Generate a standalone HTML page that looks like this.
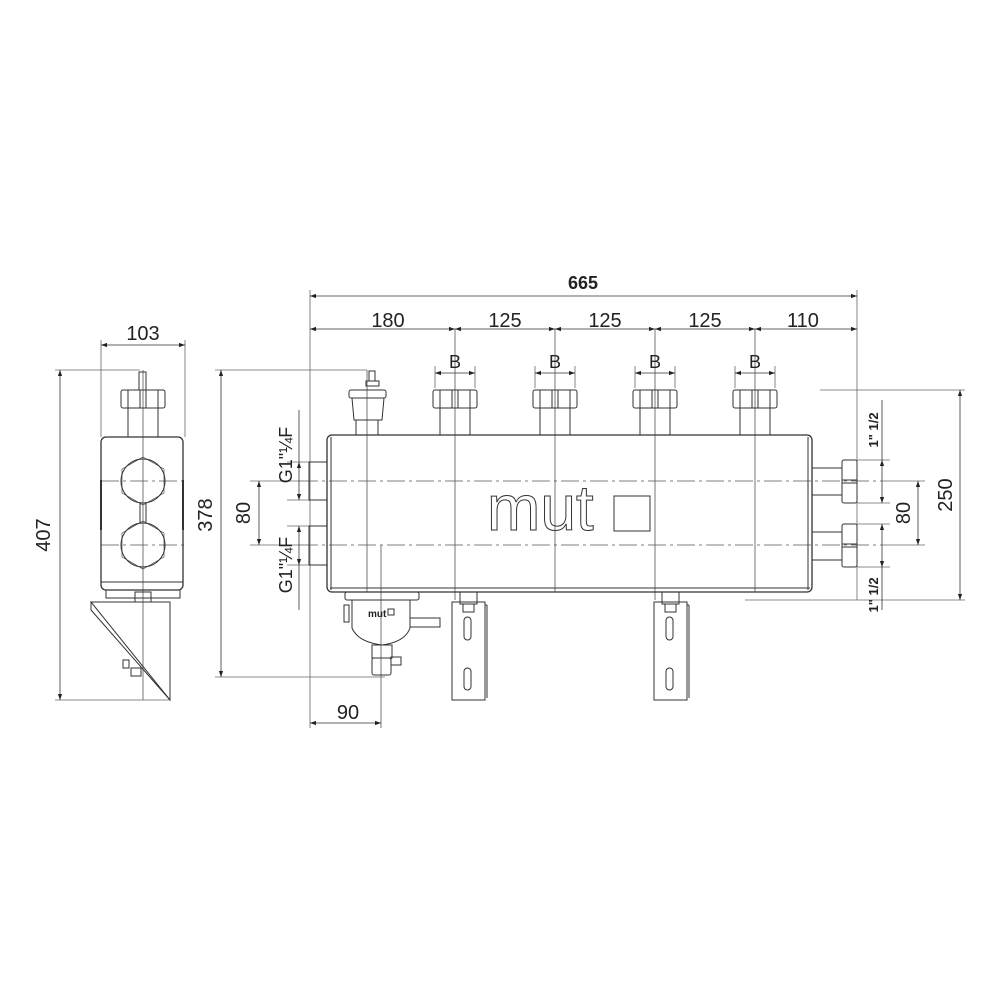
<!DOCTYPE html>
<html><head><meta charset="utf-8"><style>
html,body{margin:0;padding:0;background:#fff}
svg{display:block}
text{font-family:"Liberation Sans",sans-serif;fill:#222}
</style></head><body>
<svg width="1000" height="1000" viewBox="0 0 1000 1000" xmlns="http://www.w3.org/2000/svg">
<defs>
<marker id="a" viewBox="0 0 10 10" refX="10" refY="5" markerWidth="8" markerHeight="6" orient="auto-start-reverse" markerUnits="userSpaceOnUse"><path d="M0,1.5L10,5L0,8.5z" fill="#222"/></marker>
</defs>
<g stroke="#333" stroke-width="1" fill="none">
<g stroke="#555" stroke-width="0.8" stroke-dasharray="18,4,3,4">
<line x1="300" y1="481" x2="880" y2="481"/><line x1="300" y1="545" x2="880" y2="545"/>
<line x1="101" y1="481" x2="185" y2="481"/><line x1="101" y1="545" x2="185" y2="545"/>
</g>
<g stroke="#555" stroke-width="0.8">
<line x1="367" y1="370" x2="367" y2="592"/>
<line x1="455" y1="329" x2="455" y2="600"/><line x1="555" y1="329" x2="555" y2="592"/>
<line x1="655" y1="329" x2="655" y2="600"/><line x1="755" y1="329" x2="755" y2="592"/>
<line x1="143" y1="370" x2="143" y2="700"/>
<line x1="381" y1="545" x2="381" y2="728"/>
</g>
<g stroke="#666" stroke-width="0.8">
<line x1="310" y1="290" x2="310" y2="728"/><line x1="857" y1="290" x2="857" y2="600"/>
<line x1="101" y1="340" x2="101" y2="437"/><line x1="185" y1="340" x2="185" y2="437"/>
<line x1="55" y1="370" x2="140" y2="370"/><line x1="55" y1="700" x2="170" y2="700"/>
<line x1="215" y1="370" x2="367" y2="370"/><line x1="215" y1="677" x2="385" y2="677"/>
<line x1="820" y1="390" x2="965" y2="390"/><line x1="745" y1="600" x2="965" y2="600"/>
<line x1="250" y1="481" x2="300" y2="481"/><line x1="250" y1="545" x2="300" y2="545"/>
<line x1="435" y1="366" x2="435" y2="388"/><line x1="475" y1="366" x2="475" y2="388"/>
<line x1="535" y1="366" x2="535" y2="388"/><line x1="575" y1="366" x2="575" y2="388"/>
<line x1="635" y1="366" x2="635" y2="388"/><line x1="675" y1="366" x2="675" y2="388"/>
<line x1="735" y1="366" x2="735" y2="388"/><line x1="775" y1="366" x2="775" y2="388"/>
<line x1="287" y1="462" x2="310" y2="462"/><line x1="287" y1="500" x2="310" y2="500"/>
<line x1="287" y1="526" x2="310" y2="526"/><line x1="287" y1="565" x2="310" y2="565"/>
<line x1="857" y1="460" x2="890" y2="460"/><line x1="857" y1="503" x2="890" y2="503"/>
<line x1="857" y1="524" x2="890" y2="524"/><line x1="857" y1="567" x2="890" y2="567"/>
<line x1="880" y1="481" x2="925" y2="481"/><line x1="880" y1="545" x2="925" y2="545"/>
</g>
<g stroke="#333" stroke-width="0.8" marker-start="url(#a)" marker-end="url(#a)">
<line x1="310" y1="296" x2="857" y2="296"/>
<line x1="310" y1="329" x2="455" y2="329"/><line x1="455" y1="329" x2="555" y2="329"/>
<line x1="555" y1="329" x2="655" y2="329"/><line x1="655" y1="329" x2="755" y2="329"/>
<line x1="755" y1="329" x2="857" y2="329"/>
<line x1="435" y1="373" x2="475" y2="373"/><line x1="535" y1="373" x2="575" y2="373"/>
<line x1="635" y1="373" x2="675" y2="373"/><line x1="735" y1="373" x2="775" y2="373"/>
<line x1="101" y1="345" x2="185" y2="345"/>
<line x1="60" y1="370" x2="60" y2="700"/>
<line x1="221" y1="370" x2="221" y2="677"/>
<line x1="259" y1="481" x2="259" y2="545"/>
<line x1="299" y1="462" x2="299" y2="500"/><line x1="299" y1="526" x2="299" y2="565"/>
<line x1="310" y1="723" x2="381" y2="723"/>
<line x1="882" y1="460" x2="882" y2="503"/><line x1="882" y1="524" x2="882" y2="567"/>
<line x1="918" y1="481" x2="918" y2="545"/>
<line x1="960" y1="390" x2="960" y2="600"/>
</g>
<line x1="882" y1="400" x2="882" y2="460" stroke-width="0.8"/>
<line x1="882" y1="567" x2="882" y2="610" stroke-width="0.8"/>
<line x1="299" y1="410" x2="299" y2="462" stroke-width="0.8"/>
<line x1="299" y1="565" x2="299" y2="610" stroke-width="0.8"/>

<rect x="327" y="435" width="485" height="157" rx="5" stroke-width="1.3"/>
<line x1="331" y1="437" x2="331" y2="590"/><line x1="808" y1="437" x2="808" y2="590"/>
<line x1="330" y1="588" x2="810" y2="588"/>
<rect x="309" y="462" width="18" height="38"/><rect x="309" y="526" width="18" height="39"/>
<path d="M812 468H842M812 495H842M812 532H842M812 560H842"/>
<rect x="842" y="460" width="15" height="43" rx="2"/><rect x="842" y="524" width="15" height="43" rx="2"/>
<path d="M842 480H857M842 483H857M842 544H857M842 547H857"/>
<g id="o">
<rect x="440" y="408" width="30" height="27"/>
<rect x="433" y="390" width="44" height="18" rx="2"/>
<path d="M440 390V408M470 390V408M452 390V408M458 390V408"/>
</g>
<use href="#o" x="100"/><use href="#o" x="200"/><use href="#o" x="300"/>
<rect x="369" y="371" width="6" height="10"/><rect x="366" y="381" width="13" height="5"/>
<rect x="349" y="390" width="37" height="8" rx="2"/>
<path d="M352 398H384L382 420H354Z"/>
<rect x="356" y="420" width="22" height="15"/>
<rect x="345" y="592" width="74" height="8" rx="2"/>
<path d="M352 600H410V628Q405 642 382 645Q358 642 352 628Z"/>
<rect x="344" y="605" width="5" height="17"/>
<rect x="410" y="618" width="30" height="9"/>
<rect x="372" y="645" width="20" height="13"/>
<rect x="372" y="658" width="19" height="17" rx="2"/>
<rect x="391" y="657" width="10" height="8"/>
<text x="368" y="617" font-size="10" stroke="none" font-weight="bold">mut</text>
<rect x="388" y="609" width="6" height="6"/>
<g id="b">
<rect x="460" y="592" width="17" height="12"/>
<rect x="452" y="602" width="33" height="98"/>
<line x1="485" y1="605" x2="487" y2="605"/><line x1="487" y1="605" x2="487" y2="698"/>
<rect x="463" y="604" width="11" height="8"/>
<rect x="464" y="617" width="7" height="23" rx="3.5"/>
<rect x="464" y="668" width="7" height="22" rx="3.5"/>
</g>
<use href="#b" x="202"/>
<text x="487" y="530" font-size="64" stroke="#333" stroke-width="1" style="fill:none">mut</text>
<rect x="614" y="496" width="36" height="35"/>

<rect x="101" y="437" width="82" height="153" rx="5" stroke-width="1.3"/>
<line x1="101" y1="582" x2="183" y2="582"/>
<path d="M101 480V530M183 480V530" stroke-width="2"/>
<polygon points="143,457 164,469 164,493 143,505 122,493 122,469" stroke-width="0.6"/>
<polygon points="143,521 164,533 164,557 143,569 122,557 122,533" stroke-width="0.6"/>
<circle cx="143" cy="481" r="22"/><circle cx="143" cy="545" r="22"/>
<path d="M140 503V523M146 503V523"/>
<rect x="128" y="408" width="30" height="29"/>
<rect x="121" y="390" width="44" height="18" rx="2"/>
<path d="M128 390V408M158 390V408M140 390V408M146 390V408"/>
<rect x="139" y="372" width="7" height="18"/>
<rect x="106" y="590" width="74" height="8"/>
<rect x="135" y="592" width="16" height="10"/>
<path d="M91 602H170V700Z"/>
<path d="M91 602V610L170 700"/>
<rect x="123" y="660" width="6" height="8"/><rect x="131" y="668" width="10" height="8"/>
</g>
<text x="583" y="289" font-size="18" font-weight="bold" text-anchor="middle">665</text>
<g font-size="20" text-anchor="middle">
<text x="388" y="327">180</text><text x="505" y="327">125</text><text x="605" y="327">125</text>
<text x="705" y="327">125</text><text x="803" y="327">110</text>
<text x="143" y="340">103</text><text x="348" y="719">90</text>
</g>
<g font-size="18" text-anchor="middle">
<text x="455" y="368">B</text><text x="555" y="368">B</text><text x="655" y="368">B</text><text x="755" y="368">B</text>
</g>
<g font-size="20" text-anchor="middle">
<text transform="translate(50,535) rotate(-90)">407</text>
<text transform="translate(212,515) rotate(-90)">378</text>
<text transform="translate(250,513) rotate(-90)">80</text>
<text transform="translate(910,513) rotate(-90)">80</text>
<text transform="translate(952,495) rotate(-90)">250</text>
</g>
<g font-size="18" text-anchor="middle">
<text transform="translate(292,455) rotate(-90)">G1"¼F</text>
<text transform="translate(292,565) rotate(-90)">G1"¼F</text>
</g>
<g font-size="13" font-weight="bold" text-anchor="middle">
<text transform="translate(878,430) rotate(-90)">1" 1/2</text>
<text transform="translate(878,595) rotate(-90)">1" 1/2</text>
</g>
</svg>
</body></html>
